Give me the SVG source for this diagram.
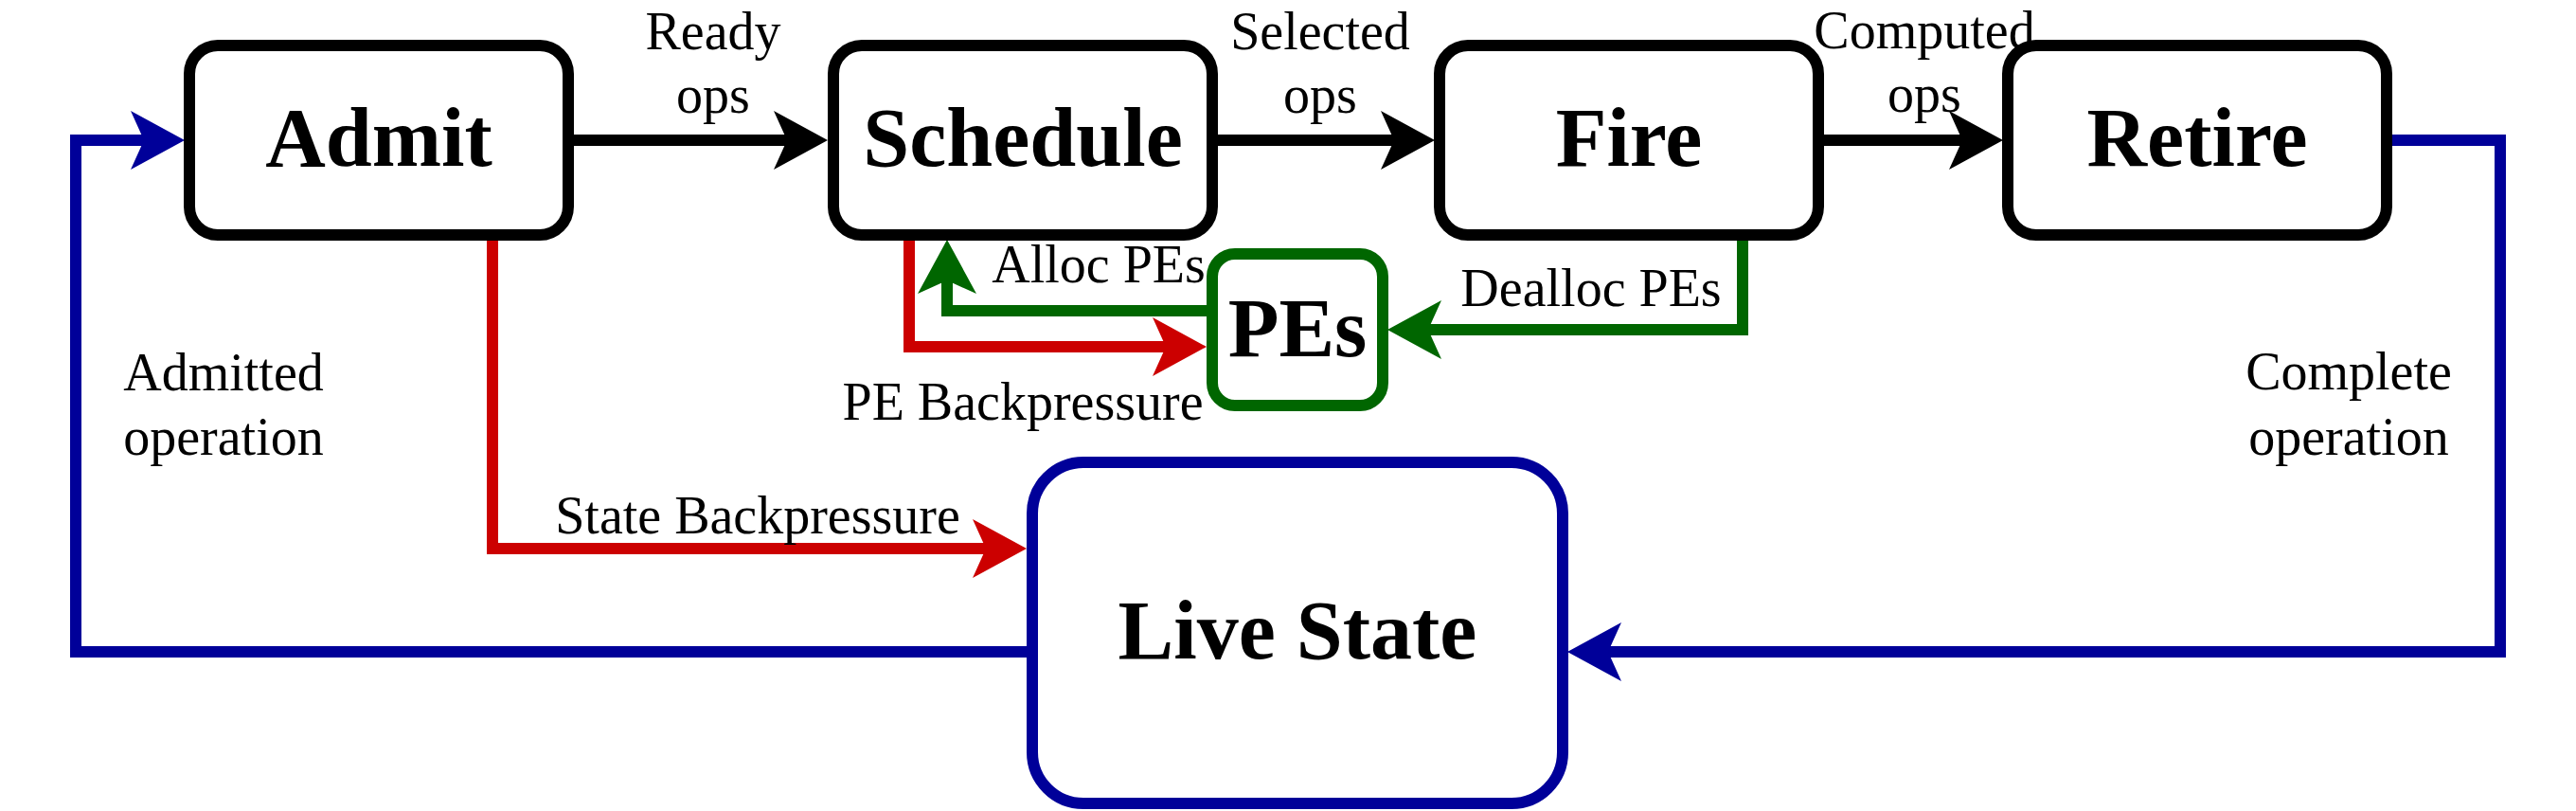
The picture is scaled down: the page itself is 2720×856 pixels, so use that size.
<svg xmlns="http://www.w3.org/2000/svg" width="2720" height="856" viewBox="0 0 2720 856">
<style>
.box{fill:#fff;stroke-width:12}
.k{stroke:#000}
.b{stroke:#000099}
.g{stroke:#006600}
.node{font-family:"Liberation Serif","Times New Roman",serif;font-weight:bold;font-size:88px;text-anchor:middle;fill:#000}
.lbl{font-family:"Liberation Serif","Times New Roman",serif;font-size:56px;text-anchor:middle;fill:#000}
.c{fill:none;stroke-width:12;stroke-linejoin:miter;stroke-linecap:butt}
</style>
<defs>
<marker id="ak" markerUnits="userSpaceOnUse" markerWidth="57" markerHeight="62" refX="14" refY="31" orient="auto" overflow="visible"><path d="M0,0 L57,31 L0,62 L14,31 Z" fill="#000"/></marker>
<marker id="ab" markerUnits="userSpaceOnUse" markerWidth="57" markerHeight="62" refX="14" refY="31" orient="auto" overflow="visible"><path d="M0,0 L57,31 L0,62 L14,31 Z" fill="#000099"/></marker>
<marker id="ar" markerUnits="userSpaceOnUse" markerWidth="57" markerHeight="62" refX="14" refY="31" orient="auto" overflow="visible"><path d="M0,0 L57,31 L0,62 L14,31 Z" fill="#CC0000"/></marker>
<marker id="ag" markerUnits="userSpaceOnUse" markerWidth="57" markerHeight="62" refX="14" refY="31" orient="auto" overflow="visible"><path d="M0,0 L57,31 L0,62 L14,31 Z" fill="#006600"/></marker>
</defs>
<g id="connectors">
<path class="c" stroke="#000099" d="M1090,688 L80,688 L80,148 L152,148" marker-end="url(#ab)"/>
<path class="c" stroke="#000" d="M600,148 L831,148" marker-end="url(#ak)"/>
<path class="c" stroke="#000" d="M1280,148 L1472,148" marker-end="url(#ak)"/>
<path class="c" stroke="#000" d="M1920,148 L2072,148" marker-end="url(#ak)"/>
<path class="c" stroke="#000099" d="M2520,148 L2640,148 L2640,688 L1698,688" marker-end="url(#ab)"/>
<path class="c" stroke="#CC0000" d="M520,248 L520,579 L1041,579" marker-end="url(#ar)"/>
<path class="c" stroke="#CC0000" d="M960,248 L960,366 L1231,366" marker-end="url(#ar)"/>
<path class="c" stroke="#006600" d="M1280,328 L1000,328 L1000,296" marker-end="url(#ag)"/>
<path class="c" stroke="#006600" d="M1840,248 L1840,348 L1508,348" marker-end="url(#ag)"/>
<text class="lbl" x="753" y="52">Ready</text>
<text class="lbl" x="753" y="119">ops</text>
<text class="lbl" x="1394" y="52">Selected</text>
<text class="lbl" x="1394" y="119">ops</text>
<text class="lbl" x="2032" y="51">Computed</text>
<text class="lbl" x="2032" y="118">ops</text>
<text class="lbl" x="1160" y="298">Alloc PEs</text>
<text class="lbl" x="1680" y="323">Dealloc PEs</text>
<text class="lbl" x="1080" y="443">PE Backpressure</text>
<text class="lbl" x="800" y="563">State Backpressure</text>
<text class="lbl" x="236" y="412">Admitted</text>
<text class="lbl" x="236" y="480">operation</text>
<text class="lbl" x="2480" y="411">Complete</text>
<text class="lbl" x="2480" y="480">operation</text>
</g>
<g id="admit"><rect class="box k" x="200" y="48" width="400" height="200" rx="30"/><text class="node" x="400" y="175">Admit</text></g>
<g id="schedule"><rect class="box k" x="880" y="48" width="400" height="200" rx="30"/><text class="node" x="1080" y="175">Schedule</text></g>
<g id="fire"><rect class="box k" x="1520" y="48" width="400" height="200" rx="30"/><text class="node" x="1720" y="175">Fire</text></g>
<g id="retire"><rect class="box k" x="2120" y="48" width="400" height="200" rx="30"/><text class="node" x="2320" y="175">Retire</text></g>
<g id="pes"><rect class="box g" x="1280" y="268" width="180" height="160" rx="24"/><text class="node" x="1370" y="376">PEs</text></g>
<g id="livestate"><rect class="box b" x="1090" y="488" width="560" height="360" rx="54"/><text class="node" x="1370" y="695">Live State</text></g>
</svg>
